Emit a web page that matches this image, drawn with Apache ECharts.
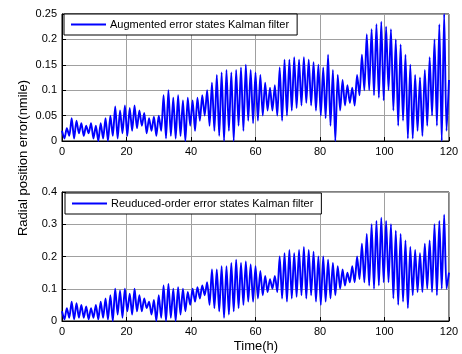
<!DOCTYPE html>
<html>
<head>
<meta charset="utf-8">
<script src="https://cdn.jsdelivr.net/npm/echarts@6/dist/echarts.min.js"></script>
<style>
  html, body { margin: 0; padding: 0; background: #fff; }
  #chart { width: 462px; height: 354px; }
</style>
</head>
<body>
<div id="chart"></div>
<script>
// sample spacing in hours (peak / trough alternate)
var step = 0.75;

// upper panel: augmented error states KF (nmile)
var augmented = [
  0.02, 0.005, 0.025, 0.01, 0.045, 0.005, 0.04, 0.015,
  0.035, 0.01, 0.03, 0.015, 0.035, 0.005, 0.03, 0.0,
  0.035, 0.005, 0.045, 0.0, 0.05, 0.01, 0.068, 0.005,
  0.06, 0.015, 0.07, 0.01, 0.065, 0.02, 0.07, 0.025,
  0.06, 0.03, 0.055, 0.015, 0.045, 0.02, 0.048, 0.01,
  0.05, 0.02, 0.09, 0.005, 0.1, 0.01, 0.085, 0.005,
  0.09, 0.01, 0.08, 0.0, 0.085, 0.03, 0.08, 0.02,
  0.085, 0.04, 0.09, 0.05, 0.1, 0.03, 0.115, 0.02,
  0.13, 0.01, 0.135, 0.0, 0.14, 0.02, 0.135, 0.0,
  0.14, 0.03, 0.145, 0.02, 0.15, 0.04, 0.14, 0.035,
  0.135, 0.04, 0.13, 0.05, 0.115, 0.06, 0.105, 0.06,
  0.11, 0.05, 0.145, 0.04, 0.16, 0.05, 0.16, 0.06,
  0.165, 0.065, 0.16, 0.07, 0.165, 0.075, 0.16, 0.07,
  0.155, 0.06, 0.15, 0.05, 0.145, 0.045, 0.17, 0.03,
  0.14, 0.0, 0.13, 0.06, 0.12, 0.07, 0.11, 0.075,
  0.105, 0.07, 0.13, 0.09, 0.17, 0.1, 0.21, 0.1,
  0.22, 0.09, 0.23, 0.085, 0.235, 0.08, 0.225, 0.1,
  0.22, 0.06, 0.2, 0.03, 0.19, 0.04, 0.17, 0.005,
  0.15, 0.005, 0.13, 0.02, 0.125, 0.01, 0.14, 0.03,
  0.165, 0.05, 0.2, 0.03, 0.23, 0.0, 0.25, 0.02, 0.12
];

// lower panel: reduced-order error states KF (nmile)
var reduced = [
  0.03, 0.005, 0.04, 0.01, 0.06, 0.005, 0.055, 0.01,
  0.05, 0.01, 0.045, 0.005, 0.04, 0.01, 0.05, 0.005,
  0.06, 0.01, 0.07, 0.005, 0.08, 0.0, 0.1, 0.02,
  0.095, 0.01, 0.1, 0.03, 0.085, 0.02, 0.1, 0.03,
  0.08, 0.03, 0.07, 0.04, 0.06, 0.02, 0.065, 0.0,
  0.08, 0.01, 0.11, 0.0, 0.115, 0.01, 0.1, 0.0,
  0.105, 0.02, 0.1, 0.03, 0.09, 0.05, 0.1, 0.06,
  0.105, 0.07, 0.11, 0.08, 0.12, 0.05, 0.16, 0.04,
  0.16, 0.03, 0.17, 0.01, 0.17, 0.02, 0.18, 0.03,
  0.19, 0.04, 0.18, 0.05, 0.185, 0.06, 0.175, 0.06,
  0.17, 0.07, 0.155, 0.08, 0.14, 0.09, 0.13, 0.1,
  0.14, 0.09, 0.2, 0.07, 0.21, 0.06, 0.22, 0.07,
  0.21, 0.075, 0.22, 0.08, 0.23, 0.07, 0.22, 0.08,
  0.215, 0.06, 0.2, 0.05, 0.2, 0.06, 0.19, 0.07,
  0.18, 0.08, 0.17, 0.1, 0.16, 0.11, 0.15, 0.12,
  0.17, 0.12, 0.2, 0.13, 0.24, 0.12, 0.27, 0.11,
  0.3, 0.1, 0.31, 0.11, 0.32, 0.12, 0.31, 0.12,
  0.3, 0.07, 0.28, 0.05, 0.27, 0.06, 0.25, 0.04,
  0.23, 0.08, 0.22, 0.09, 0.21, 0.09, 0.24, 0.1,
  0.25, 0.09, 0.3, 0.08, 0.31, 0.1, 0.33, 0.1, 0.15
];

var seriesNames = ['Augmented error states Kalman filter', 'Reuduced-order error states Kalman filter'];

function toPairs(arr) {
  return arr.map(function (v, i) { return [i * step, v]; });
}

var font = 'Liberation Sans, Arial, sans-serif';

function xAxisFor(idx) {
  return {
    type: 'value', gridIndex: idx, min: 0, max: 120, interval: 20,
    axisLine: { show: true, onZero: false, lineStyle: { color: '#000' } },
    axisTick: { inside: true, length: 4, lineStyle: { color: '#000' } },
    axisLabel: { color: '#000', fontSize: 11, fontFamily: font, margin: 5 },
    splitLine: { show: true, lineStyle: { color: '#a0a0a0', width: 1 } }
  };
}
function yAxisFor(idx, max, interval) {
  return {
    type: 'value', gridIndex: idx, min: 0, max: max, interval: interval,
    axisLine: { show: true, lineStyle: { color: '#000' } },
    axisTick: { inside: true, length: 4, lineStyle: { color: '#000' } },
    axisLabel: { color: '#000', fontSize: 11, fontFamily: font, margin: 5 },
    splitLine: { show: true, lineStyle: { color: '#a0a0a0', width: 1 } }
  };
}
function legendFor(name, left, top) {
  return {
    data: [name], left: left, top: top,
    icon: 'rect', itemWidth: 35, itemHeight: 2, itemGap: 0,
    padding: [5, 8, 5, 7],
    borderColor: '#000', borderWidth: 1, borderRadius: 0,
    backgroundColor: '#fff',
    textStyle: { color: '#000', fontSize: 11, fontFamily: font, padding: [0, 0, 0, -1] },
    selectedMode: false
  };
}

var chart = echarts.init(document.getElementById('chart'), null, { renderer: 'canvas' });
chart.setOption({
  animation: false,
  backgroundColor: '#fff',
  grid: [
    { left: 62, right: 13, top: 14, height: 127, show: true, borderColor: '#000', borderWidth: 1, backgroundColor: 'transparent' },
    { left: 62, right: 13, top: 192, height: 129, show: true, borderColor: '#000', borderWidth: 1, backgroundColor: 'transparent' }
  ],
  xAxis: [xAxisFor(0), xAxisFor(1)],
  yAxis: [yAxisFor(0, 0.25, 0.05), yAxisFor(1, 0.4, 0.1)],
  legend: [legendFor(seriesNames[0], 64, 14), legendFor(seriesNames[1], 65, 193)],
  series: [
    {
      name: seriesNames[0], type: 'line', xAxisIndex: 0, yAxisIndex: 0,
      symbol: 'none', smooth: 0.25, color: '#0000ff',
      lineStyle: { color: '#0000ff', width: 1.9 },
      data: toPairs(augmented), z: 1
    },
    {
      name: seriesNames[1], type: 'line', xAxisIndex: 1, yAxisIndex: 1,
      symbol: 'none', smooth: 0.25, color: '#0000ff',
      lineStyle: { color: '#0000ff', width: 1.9 },
      data: toPairs(reduced), z: 1
    }
  ],
  graphic: [
    {
      type: 'text', x: 23, y: 158, rotation: Math.PI / 2,
      style: { text: 'Radial position error(nmile)', fill: '#000', font: '13px ' + font, align: 'center', verticalAlign: 'middle' }
    },
    {
      type: 'text', x: 256, y: 346,
      style: { text: 'Time(h)', fill: '#000', font: '13px ' + font, align: 'center', verticalAlign: 'middle' }
    }
  ]
});
</script>
</body>
</html>
